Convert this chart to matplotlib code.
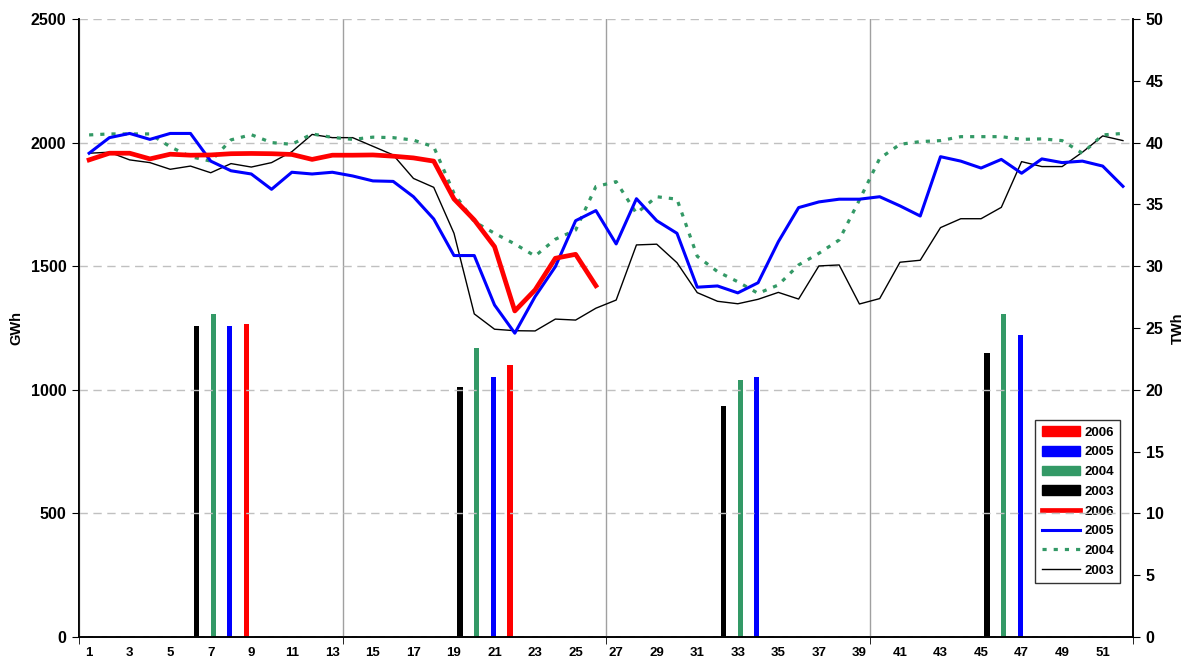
import numpy as np
import matplotlib.pyplot as plt
from matplotlib.patches import Patch
from matplotlib.lines import Line2D

plt.rcParams['font.family'] = ['Liberation Sans', 'DejaVu Sans']
plt.rcParams['font.weight'] = 'bold'

# weekly values, GWh
weeks = np.arange(1, 53)

gwh_2006 = [1930, 1957, 1957, 1934, 1953, 1949, 1950, 1955, 1956, 1955,
            1952, 1932, 1949, 1949, 1950, 1945, 1938, 1925, 1772, 1687,
            1579, 1319, 1404, 1532, 1548, 1421]

gwh_2005 = [1957, 2020, 2037, 2013, 2037, 2037, 1925, 1886, 1873, 1811,
            1880, 1873, 1880, 1865, 1845, 1843, 1781, 1691, 1543, 1543,
            1343, 1229, 1377, 1498, 1684, 1725, 1590, 1773, 1684, 1633,
            1415, 1420, 1392, 1433, 1599, 1737, 1760, 1771, 1771, 1781,
            1744, 1703, 1943, 1925, 1897, 1932, 1876, 1934, 1919, 1925,
            1905, 1823]

gwh_2004 = [2031, 2035, 2035, 2035, 1983, 1943, 1925, 2011, 2032, 2000,
            1993, 2035, 2021, 2013, 2022, 2020, 2010, 1983, 1795, 1680,
            1633, 1590, 1541, 1609, 1646, 1822, 1842, 1714, 1781, 1771,
            1540, 1478, 1437, 1390, 1424, 1505, 1552, 1606, 1768, 1936,
            1993, 2004, 2008, 2024, 2024, 2024, 2013, 2015, 2008, 1957,
            2031, 2037]

gwh_2003 = [1957, 1961, 1930, 1919, 1892, 1905, 1878, 1915, 1901, 1919,
            1963, 2033, 2020, 2020, 1985, 1950, 1855, 1819, 1633, 1307,
            1245, 1239, 1238, 1286, 1282, 1330, 1363, 1586, 1589, 1514,
            1393, 1358, 1348, 1366, 1394, 1367, 1501, 1505, 1347, 1369,
            1516, 1524, 1656, 1692, 1692, 1738, 1923, 1903, 1903, 1961,
            2027, 2008]

# quarterly totals, TWh
quarters = [1, 2, 3, 4]
twh_2003 = [25.2, 20.2, 18.7, 23.0]
twh_2004 = [26.1, 23.4, 20.8, 26.1]
twh_2005 = [25.2, 21.0, 21.0, 24.4]
twh_2006 = [25.3, 22.0, np.nan, np.nan]

red = '#FF0000'
blue = '#0000FF'
green = '#339966'
black = '#000000'

fig = plt.figure(figsize=(11.84, 6.64), dpi=100)
ax = fig.add_axes([0.0667, 0.0407, 0.8903, 0.9307])
ax2 = ax.twinx()

# bars (right axis), clustered inside each quarter
bar_years = [(twh_2003, black), (twh_2004, green), (twh_2005, blue), (twh_2006, red)]
qstart = 0.5 + 13 * (np.array(quarters) - 1)
for k, (vals, col) in enumerate(bar_years):
    ax2.bar(qstart + 5.8 + 0.82 * k, vals, width=0.26, color=col, zorder=2)

# lines (left axis)
ax.plot(weeks, gwh_2003, color=black, lw=1.0, zorder=3)
ax.plot(weeks, gwh_2004, color=green, lw=2.3, linestyle=(0, (1.3, 2.2)), zorder=3)
ax.plot(weeks, gwh_2005, color=blue, lw=2.2, zorder=4)
ax.plot(weeks[:len(gwh_2006)], gwh_2006, color=red, lw=3.4, zorder=5)
ax.set_zorder(ax2.get_zorder() + 1)
ax.patch.set_visible(False)

ax.set_xlim(0.5, 52.5)
ax.set_ylim(0, 2500)
ax2.set_ylim(0, 50)
ax.set_yticks(np.arange(0, 2501, 500))
ax2.set_yticks(np.arange(0, 51, 5))
ax.set_xticks(np.arange(1, 53, 2))
ax.set_xticks(np.arange(0.5, 53, 13), minor=True)
ax.tick_params(axis='x', which='major', length=0, labelsize=9.5, pad=7)
ax.tick_params(axis='x', which='minor', length=5, direction='out')
ax.tick_params(axis='y', length=5, direction='out', labelsize=11.5, pad=4)
ax2.tick_params(axis='y', length=5, direction='out', labelsize=11.5, pad=4)
ax2.set_xlim(0.5, 52.5)

ax.grid(axis='y', color='#c0c0c0', linestyle=(0, (6, 4)), lw=1)
ax.grid(axis='x', which='minor', color='#a0a0a0', linestyle='-', lw=1)
ax.grid(axis='x', which='major', visible=False)

for a in (ax, ax2):
    a.spines['top'].set_visible(False)
    a.spines['left'].set_linewidth(1.2)
    a.spines['right'].set_linewidth(1.2)
    a.spines['bottom'].set_linewidth(1.2)

ax.set_ylabel('GWh', fontsize=10.5, fontweight='bold')
ax2.set_ylabel('TWh', fontsize=10.5, fontweight='bold')
ax.yaxis.set_label_coords(-0.053, 0.5)
ax2.yaxis.set_label_coords(1.0355, 0.5)

handles = [Patch(color=red, label='2006'), Patch(color=blue, label='2005'),
           Patch(color=green, label='2004'), Patch(color=black, label='2003'),
           Line2D([], [], color=red, lw=3.4, label='2006'),
           Line2D([], [], color=blue, lw=2.2, label='2005'),
           Line2D([], [], color=green, lw=2.3, linestyle=(0, (1.3, 2.2)), label='2004'),
           Line2D([], [], color=black, lw=1.0, label='2003')]
leg = ax2.legend(handles=handles, loc='lower right', bbox_to_anchor=(0.988, 0.087),
                 fontsize=9.5, frameon=True, fancybox=False, shadow=False,
                 handlelength=2.9, handleheight=0.75, labelspacing=0.55,
                 borderpad=0.5, handletextpad=0.3, borderaxespad=0)
leg.get_frame().set_edgecolor('black')
leg.get_frame().set_linewidth(1.0)
for t in leg.get_texts():
    t.set_fontweight('bold')

fig.savefig('out.png', dpi=100)
